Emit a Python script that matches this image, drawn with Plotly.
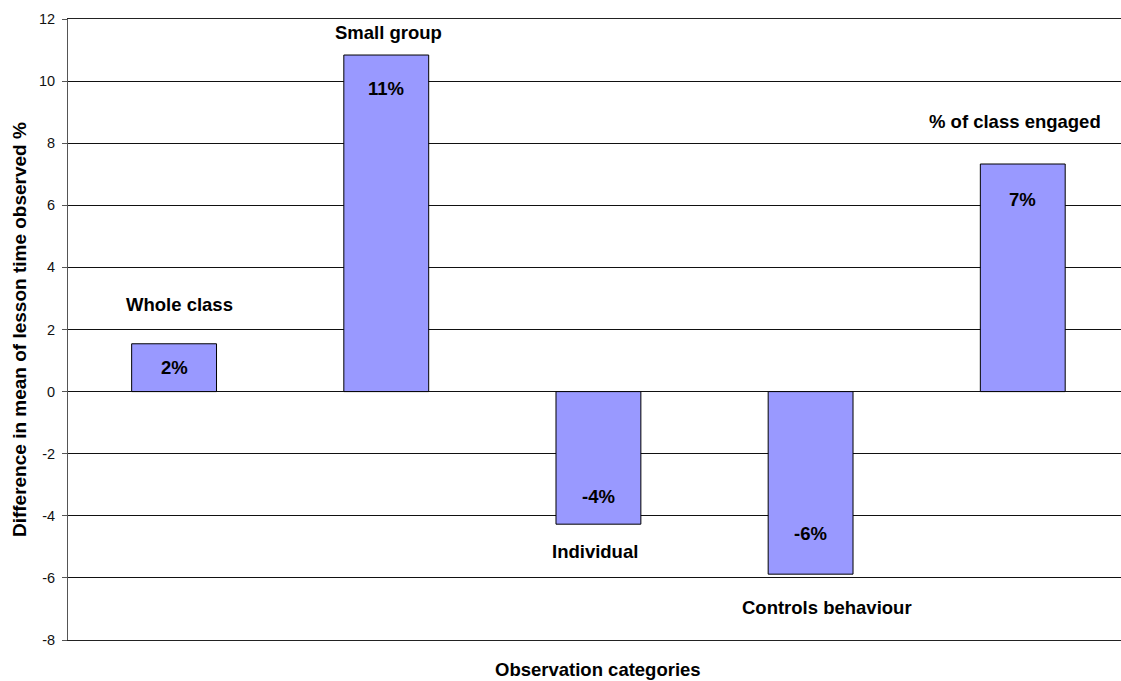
import plotly.graph_objects as go

categories = ["Whole class", "Small group", "Individual", "Controls behaviour", "% of class engaged"]
values = [1.54, 10.84, -4.27, -5.88, 7.33]
y_ticks = [-8, -6, -4, -2, 0, 2, 4, 6, 8, 10, 12]

# pixel offsets of labels relative to bar ends (style)
pct_shift = [-24, -33, 28, 41, -35]
name_shift = [39, 23, -27, -33, 43]
name_xshift = [5, 2, -3, 16, -8]

FONT = "Liberation Sans, Arial, sans-serif"
LBL = 18.5

fig = go.Figure()
fig.add_trace(go.Bar(
    x=list(range(len(categories))), y=values,
    width=0.4,
    marker=dict(color="#9999FF", line=dict(color="#000000", width=1)),
    hoverinfo="skip",
))

ann = []
for i, (c, v) in enumerate(zip(categories, values)):
    ann.append(dict(x=i, y=v, xref="x", yref="y", text=f"<b>{v:.0f}%</b>", showarrow=False,
                    yshift=pct_shift[i], font=dict(family=FONT, size=LBL, color="#000000")))
    ann.append(dict(x=i, y=v, xref="x", yref="y", text=f"<b>{c}</b>", showarrow=False,
                    yshift=name_shift[i], xshift=name_xshift[i],
                    font=dict(family=FONT, size=LBL, color="#000000")))

ann.append(dict(x=0.503, y=-0.048, xref="paper", yref="paper", text="<b>Observation categories</b>",
                showarrow=False, yanchor="middle", font=dict(family=FONT, size=LBL, color="#000000")))
ann.append(dict(x=-0.046, y=0.5, xref="paper", yref="paper",
                text="<b>Difference in mean of lesson time observed %</b>", textangle=-90,
                showarrow=False, xanchor="center", yanchor="middle",
                font=dict(family=FONT, size=19, color="#000000")))

fig.update_layout(
    width=1121, height=681,
    margin=dict(l=68, r=0, t=19, b=41),
    paper_bgcolor="white", plot_bgcolor="white",
    showlegend=False,
    annotations=ann,
    font=dict(family=FONT),
    xaxis=dict(range=[-0.5, 4.463], showticklabels=False, showgrid=False, zeroline=False,
               showline=True, mirror=True, linecolor="#222222", linewidth=1, ticks=""),
    yaxis=dict(range=[-8, 12], tickvals=y_ticks, ticktext=[str(t) for t in y_ticks],
               showgrid=True, gridcolor="#111111", gridwidth=1,
               zeroline=True, zerolinecolor="#111111", zerolinewidth=1,
               showline=True, linecolor="#555555", linewidth=1,
               ticks="outside", ticklen=5, tickcolor="#555555", ticklabelstandoff=4,
               tickfont=dict(family=FONT, size=14.5, color="#111111")),
)

fig.write_html("out.html")
